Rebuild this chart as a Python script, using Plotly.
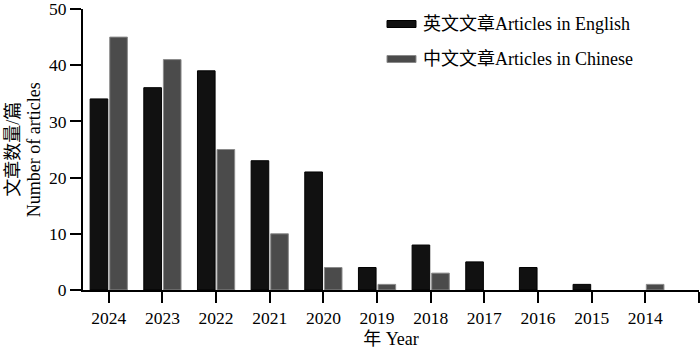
import plotly.graph_objects as go

years = ["2024", "2023", "2022", "2021", "2020", "2019", "2018", "2017", "2016", "2015", "2014"]
english = [34, 36, 39, 23, 21, 4, 8, 5, 4, 1, 0]
chinese = [45, 41, 25, 10, 4, 1, 3, 0, 0, 0, 1]
name_en = "英文文章Articles in English"
name_cn = "中文文章Articles in Chinese"
yticks = [0, 10, 20, 30, 40, 50]

FONT = "Liberation Serif, Times New Roman, Noto Sans CJK SC, serif"
BLACK = "#111111"
GRAY = "#4b4b4b"

idx = list(range(len(years)))

def edge_widths(vals):
    return [1 if v > 0 else 0 for v in vals]

TOP = 9
BOT = 64
PH = 354 - TOP - BOT
Y0 = 354 - BOT

fig = go.Figure()
fig.add_trace(go.Bar(x=idx, y=english, name=name_en,
                     marker=dict(color=BLACK, line=dict(color="#000000", width=edge_widths(english))),
                     showlegend=False))
fig.add_trace(go.Bar(x=idx, y=chinese, name=name_cn,
                     marker=dict(color=GRAY, line=dict(color="#8a8a8a", width=edge_widths(chinese))),
                     showlegend=False))

fig.update_layout(
    width=700, height=354,
    margin=dict(l=83, r=1, t=TOP, b=BOT),
    paper_bgcolor="white", plot_bgcolor="white",
    barmode="group", bargap=0.27, bargroupgap=0.1,
    font=dict(family=FONT, size=17.5, color="#000"),
)
fig.update_xaxes(
    range=[-0.48, 11], tickmode="array",
    tickvals=idx + [len(years)], ticktext=years + [""],
    showline=True, linewidth=2, linecolor="#000",
    ticks="outside", ticklen=11, tickwidth=2, tickcolor="#000",
    showgrid=False, zeroline=False, automargin=False,
    tickfont=dict(family=FONT, size=17.5),
    title=dict(text="年 Year", font=dict(family=FONT, size=18), standoff=5),
)
fig.update_yaxes(
    range=[0, 50], tickvals=yticks,
    showline=True, linewidth=2, linecolor="#000",
    ticks="outside", ticklen=11, tickwidth=2, tickcolor="#000",
    showgrid=False, zeroline=False, ticklabeloverflow="allow", automargin=False,
    tickfont=dict(family=FONT, size=17.5),
)

# y title as two rotated lines
fig.add_annotation(text="文章数量/篇", xref="paper", yref="paper", x=-0.115, y=0.5,
                   textangle=-90, showarrow=False, xanchor="center", yanchor="middle",
                   font=dict(family=FONT, size=18, color="#000"))
fig.add_annotation(text="Number of articles", xref="paper", yref="paper", x=-0.08, y=0.5,
                   textangle=-90, showarrow=False, xanchor="center", yanchor="middle",
                   font=dict(family=FONT, size=18, color="#000"))

# custom legend
for i, (nm, col, lc) in enumerate([(name_en, BLACK, "#000"), (name_cn, GRAY, "#8a8a8a")]):
    yc = 24 + i * 35
    fig.add_shape(type="rect", xref="paper", yref="paper",
                  x0=(387 - 83) / 616, x1=(416 - 83) / 616,
                  y0=(Y0 - yc - 3.5) / PH, y1=(Y0 - yc + 3.5) / PH,
                  fillcolor=col, line=dict(color=lc, width=1))
    fig.add_annotation(text=nm, xref="paper", yref="paper", x=(421 - 83) / 616, y=(Y0 - yc) / PH,
                       xanchor="left", yanchor="middle", showarrow=False,
                       font=dict(family=FONT, size=18, color="#000"))

fig.write_html("out.html")
